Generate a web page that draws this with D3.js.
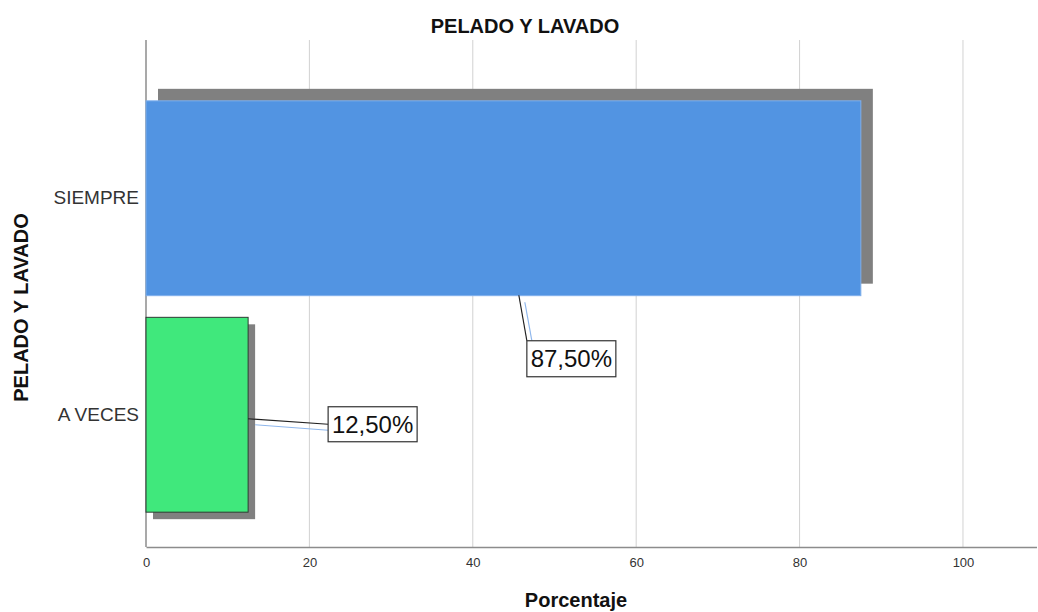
<!DOCTYPE html>
<html>
<head>
<meta charset="utf-8">
<script src="https://cdn.jsdelivr.net/npm/d3@7"></script>
<style>
  html, body { margin: 0; padding: 0; background: #ffffff; }
  svg { display: block; font-family: "Liberation Sans", Arial, sans-serif; }
</style>
</head>
<body>
<svg id="chart" width="1038" height="612"></svg>
<script>
// Data
const categories = ["SIEMPRE", "A VECES"];
const percentages = [87.5, 12.5];
const valueLabels = ["87,50%", "12,50%"];
const xTicks = [0, 20, 40, 60, 80, 100];

// Styles per bar
const barColors = ["#5294e2", "#40e87c"];
const barStrokes = ["#7fb0ec", "#2e3a33"];
const shadowOffsets = [[12, -12], [7, 7]];
// Label box placement relative to bar end (dx) and band centre (dy)
const labelLayout = [
  { dx: -334, dy: 160.5, w: 89, h: 36, lineFrom: [-342, 97], blueFrom: [-336, 104], lineTo: [0, 0], blueTo: [5, 0] },
  { dx: 80, dy: 9.5, w: 89, h: 35, lineFrom: [0, 4], blueFrom: [7, 10], lineTo: [0, 0], blueTo: [0, 6] }
];

const svg = d3.select("#chart");
const margin = { top: 40, left: 146, right: 1036.5, bottom: 547 };

const x = d3.scaleLinear().domain([0, 109]).range([margin.left, margin.right]);
const y = d3.scaleBand().domain(categories).range([90, 523]).paddingInner(0.1).paddingOuter(0.05);

// Vertical grid lines
svg.append("g").selectAll("line")
  .data(xTicks.filter(d => d > 0))
  .join("line")
  .attr("x1", d => x(d)).attr("x2", d => x(d))
  .attr("y1", margin.top).attr("y2", margin.bottom)
  .attr("stroke", "#d2d2d2").attr("stroke-width", 1);

// Axes
const xAxis = d3.axisBottom(x).tickValues(xTicks).tickSize(0).tickPadding(11);
const gx = svg.append("g").attr("transform", `translate(0,${margin.bottom})`).call(xAxis);
gx.select(".domain").attr("stroke", "#8c8c8c").attr("stroke-width", 1.5);
gx.selectAll("text").attr("font-size", 13).attr("fill", "#333").attr("font-family", "Liberation Sans, Arial, sans-serif");

const yAxis = d3.axisLeft(y).tickSize(0).tickPadding(7);
const gy = svg.append("g").attr("transform", `translate(${margin.left},0)`).call(yAxis);
gy.select(".domain").attr("d", `M0,${margin.top}V${margin.bottom}`).attr("stroke", "#8c8c8c").attr("stroke-width", 1.5);
gy.selectAll("text").attr("font-size", 19).attr("fill", "#333").attr("font-family", "Liberation Sans, Arial, sans-serif");

// Bars with drop shadows
const bars = categories.map((c, i) => ({ c, v: percentages[i], i }));

svg.append("g").selectAll("rect")
  .data(bars).join("rect")
  .attr("x", d => x(0) + shadowOffsets[d.i][0])
  .attr("y", d => y(d.c) + shadowOffsets[d.i][1])
  .attr("width", d => x(d.v) - x(0))
  .attr("height", y.bandwidth())
  .attr("fill", "#808080");

svg.append("g").selectAll("rect")
  .data(bars).join("rect")
  .attr("x", x(0))
  .attr("y", d => y(d.c))
  .attr("width", d => x(d.v) - x(0))
  .attr("height", y.bandwidth())
  .attr("fill", d => barColors[d.i])
  .attr("stroke", d => barStrokes[d.i])
  .attr("stroke-width", 1);

// Value labels with leader lines
const lg = svg.append("g");
bars.forEach(d => {
  const L = labelLayout[d.i];
  const ex = x(d.v);
  const cy = y(d.c) + y.bandwidth() / 2;
  const bx = ex + L.dx;
  const by = cy + L.dy - L.h / 2;
  // leader lines end on the top edge (upper label) or the left edge (side label)
  const endX = bx;
  const endY = d.i === 0 ? by : by + L.h / 2;
  lg.append("line")
    .attr("x1", ex + L.blueFrom[0]).attr("y1", cy + L.blueFrom[1])
    .attr("x2", endX + L.blueTo[0]).attr("y2", endY + L.blueTo[1])
    .attr("stroke", "#8fb7ec").attr("stroke-width", 1.2);
  lg.append("line")
    .attr("x1", ex + L.lineFrom[0]).attr("y1", cy + L.lineFrom[1])
    .attr("x2", endX + L.lineTo[0]).attr("y2", endY + L.lineTo[1])
    .attr("stroke", "#222").attr("stroke-width", 1.2);
  lg.append("rect")
    .attr("x", bx).attr("y", by).attr("width", L.w).attr("height", L.h)
    .attr("fill", "#fff").attr("stroke", "#333").attr("stroke-width", 1.2);
  lg.append("text")
    .attr("x", bx + L.w / 2).attr("y", by + L.h / 2)
    .attr("dy", "0.36em")
    .attr("text-anchor", "middle")
    .attr("font-size", 24).attr("fill", "#111")
    .text(valueLabels[d.i]);
});

// Titles
svg.append("text").attr("x", 525).attr("y", 33).attr("text-anchor", "middle")
  .attr("font-size", 20).attr("font-weight", "bold").attr("fill", "#111")
  .text("PELADO Y LAVADO");

svg.append("text").attr("x", 576).attr("y", 607).attr("text-anchor", "middle")
  .attr("font-size", 20).attr("font-weight", "bold").attr("fill", "#111")
  .text("Porcentaje");

svg.append("text")
  .attr("transform", `translate(28,${(margin.top + margin.bottom) / 2 + 14}) rotate(-90)`)
  .attr("text-anchor", "middle")
  .attr("font-size", 20).attr("font-weight", "bold").attr("fill", "#111")
  .text("PELADO Y LAVADO");
</script>
</body>
</html>
